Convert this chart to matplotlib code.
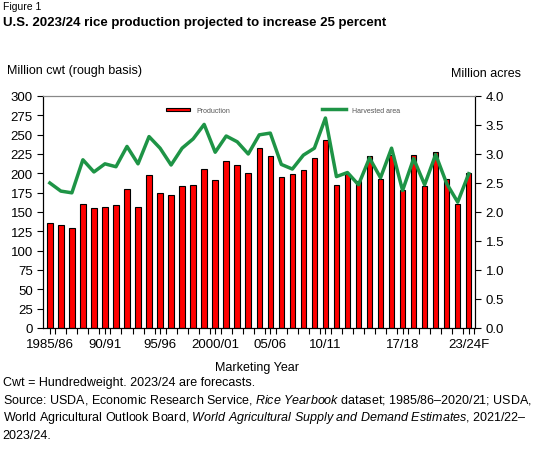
import matplotlib.pyplot as plt
import numpy as np

years = list(range(1985, 2024))
production = [136, 133, 129, 160, 155, 156, 159, 180, 156, 198, 174, 172, 184, 185, 206,
              191, 216, 211, 200, 233, 223, 195, 199, 204, 220, 243, 185, 199, 190, 222,
              193, 224, 178, 224, 184, 228, 192, 160, 201]
area = [2.50, 2.36, 2.33, 2.90, 2.69, 2.83, 2.78, 3.13, 2.83, 3.30, 3.10, 2.81, 3.10, 3.26,
        3.51, 3.03, 3.31, 3.21, 3.00, 3.33, 3.36, 2.82, 2.74, 2.98, 3.10, 3.62, 2.61, 2.68,
        2.47, 2.93, 2.59, 3.10, 2.37, 2.92, 2.47, 2.99, 2.49, 2.17, 2.66]
tick_years = [1985, 1990, 1995, 2000, 2005, 2010, 2017, 2023]
tick_labels = ["1985/86", "90/91", "95/96", "2000/01", "05/06", "10/11", "17/18", "23/24F"]

plt.rcParams['font.family'] = ['Liberation Sans', 'DejaVu Sans']
plt.rcParams['mathtext.fontset'] = 'custom'
plt.rcParams['mathtext.it'] = 'Liberation Sans:italic'
plt.rcParams['mathtext.rm'] = 'Liberation Sans'
fig = plt.figure(figsize=(5.47, 4.64), dpi=100)
ax = fig.add_axes([0.079, 0.291, 0.79, 0.50])
x = np.arange(len(years))
ax.bar(x, production, width=0.5, color='#ff0000', edgecolor='black', linewidth=0.8,
       label='Production')
ax.set_ylim(0, 300)
ax.set_yticks(range(0, 301, 25))
ax.set_xlim(-0.6, len(years) - 0.4)
ax.set_xticks([years.index(y) for y in tick_years])
ax.set_xticklabels(tick_labels)
ax.set_xticks(np.arange(len(years)) + 0.5, minor=True)
ax.tick_params(which='both', direction='out', length=4, labelsize=9.5, width=0.8)
ax.spines['top'].set_color('#888888')

ax2 = ax.twinx()
ax2.plot(x, area, color='#1e9446', linewidth=2.5, label='Harvested area')
ax2.set_ylim(0, 4)
ax2.set_yticks(np.arange(0, 4.01, 0.5))
ax2.set_yticklabels([f"{v:.1f}" for v in np.arange(0, 4.01, 0.5)])
ax2.tick_params(direction='out', length=4, labelsize=9.5)
ax2.spines['top'].set_color('#888888')

ax.legend(loc='upper left', bbox_to_anchor=(0.27, 0.98), frameon=False, fontsize=5,
          handlelength=3.5, handleheight=0.4, labelcolor='#555555')
ax2.legend(loc='upper left', bbox_to_anchor=(0.63, 0.98), frameon=False, fontsize=5,
           handlelength=3.5, labelcolor='#555555')

fig.text(0.005, 0.978, "Figure 1", fontsize=7.5)
fig.text(0.005, 0.945, "U.S. 2023/24 rice production projected to increase 25 percent",
         fontsize=9.5, fontweight='bold')
fig.text(0.013, 0.84, "Million cwt (rough basis)", fontsize=9)
fig.text(0.825, 0.835, "Million acres", fontsize=9)
fig.text(0.47, 0.2, "Marketing Year", fontsize=9, ha='center')
fig.text(0.005, 0.168, "Cwt = Hundredweight. 2023/24 are forecasts.", fontsize=9)
fig.text(0.005, 0.13, "Source: USDA, Economic Research Service, $\\it{Rice\\ Yearbook}$ dataset; 1985/86\u20132020/21; USDA,",
         fontsize=9)
fig.text(0.005, 0.092, "World Agricultural Outlook Board, $\\it{World\\ Agricultural\\ Supply\\ and\\ Demand\\ Estimates}$, 2021/22\u2013",
         fontsize=9)
fig.text(0.005, 0.054, "2023/24.", fontsize=9)

fig.savefig("out.png")
